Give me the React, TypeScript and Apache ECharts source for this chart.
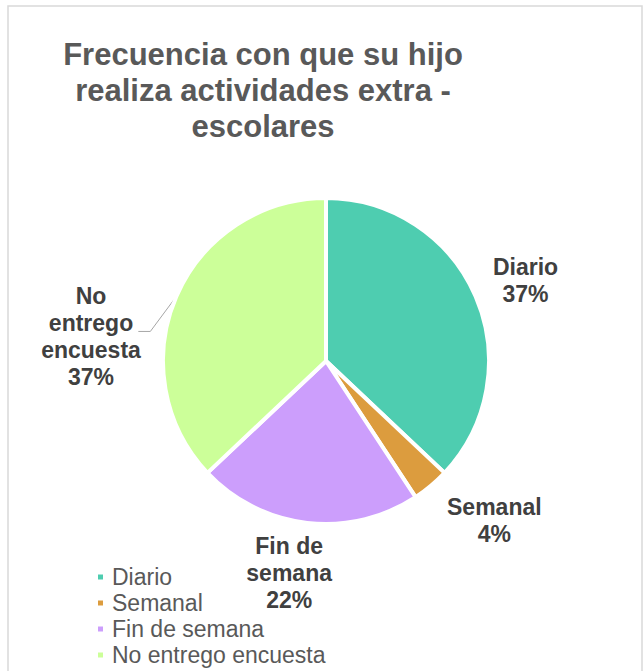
import React, { useEffect, useRef } from "react";
import * as echarts from "echarts";

const titleText = "Frecuencia con que su hijo\nrealiza actividades extra -\nescolares";
const categories = ["Diario", "Semanal", "Fin de semana", "No entrego encuesta"];
const counts = [10, 1, 6, 10];
const labelNameLines = [["Diario"], ["Semanal"], ["Fin de", "semana"], ["No", "entrego", "encuesta"]];
const colors = ["#4ECDB0", "#DC9C3E", "#CC9EFC", "#CCFF99"];

// label placement (line lengths) and visibility of leader lines
const labelLen = [40.9, 45.8, 50.8, -100];
const labelLen2 = [-25.3, -18.2, -35.8, 122.3];
const showLine = [false, false, false, true];

const FONT = "Arial, 'Liberation Sans', sans-serif";

export default function App() {
  const ref = useRef<HTMLDivElement>(null);
  useEffect(() => {
    if (!ref.current) return;
    const chart = echarts.init(ref.current, undefined, { renderer: "svg" });
    chart.setOption({
      animation: false,
      backgroundColor: "#ffffff",
      title: {
        text: titleText,
        left: 263,
        top: 36,
        padding: 0,
        textAlign: "center",
        textStyle: {
          fontFamily: FONT,
          fontSize: 31,
          fontWeight: "bold",
          color: "#595959",
          lineHeight: 36,
        },
      },
      legend: {
        orient: "vertical",
        left: 96,
        top: 564,
        padding: 0,
        itemGap: 0,
        itemWidth: 7,
        itemHeight: 7,
        icon: "rect",
        data: categories,
        textStyle: {
          fontFamily: FONT,
          fontSize: 23,
          color: "#595959",
          lineHeight: 26,
          padding: [0, 0, 0, 3],
        },
      },
      graphic: [
        {
          type: "rect",
          shape: { x: 8, y: 6, width: 634, height: 720 },
          style: { fill: "none", stroke: "#D9D9D9", lineWidth: 1.5 },
          silent: true,
        },
      ],
      series: [
        {
          type: "pie",
          center: [326, 361],
          radius: 163,
          startAngle: 90,
          clockwise: true,
          percentPrecision: 0,
          avoidLabelOverlap: false,
          itemStyle: { borderColor: "#ffffff", borderWidth: 4 },
          label: {
            show: true,
            position: "outside",
            alignTo: "none",
            distanceToLabelLine: 5,
            fontFamily: FONT,
            fontSize: 23,
            fontWeight: "bold",
            color: "#404040",
            lineHeight: 27,
            formatter: (p: any) =>
              labelNameLines[p.dataIndex].map((s) => `{c|${s}}`).join("\n") + `\n{c|${p.percent}%}`,
            rich: {
              c: {
                fontFamily: FONT,
                fontSize: 23,
                fontWeight: "bold",
                color: "#404040",
                lineHeight: 27,
                align: "center",
              },
            },
          },
          labelLayout: (params: any) => {
            if (params.dataIndex === 3 && params.labelLinePoints) {
              const p0 = params.labelLinePoints[0];
              return {
                labelLinePoints: [
                  [p0[0], p0[1]],
                  [p0[0] - 26, p0[1] + 35],
                  [p0[0] - 38, p0[1] + 35],
                ],
              };
            }
            return {};
          },
          data: categories.map((name, i) => ({
            name,
            value: counts[i],
            itemStyle: { color: colors[i] },
            labelLine: {
              show: showLine[i],
              length: labelLen[i],
              length2: labelLen2[i],
              smooth: false,
              lineStyle: { color: "#A6A6A6", width: 1 },
            },
          })),
        },
      ],
    });
    return () => chart.dispose();
  }, []);
  return (
    <div
      ref={ref}
      style={{ position: "fixed", left: 0, top: 0, width: 643, height: 671, background: "#fff" }}
    />
  );
}
